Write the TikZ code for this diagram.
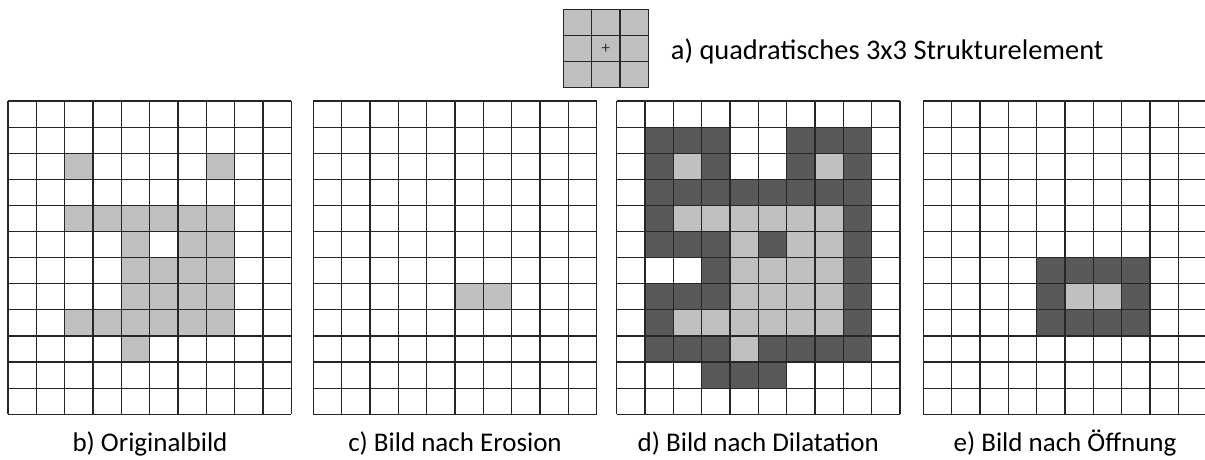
\documentclass[tikz,border=0pt]{standalone}
\usepackage{fontspec}
\setmainfont{Carlito}
\definecolor{lightc}{HTML}{C0C0C0}
\definecolor{darkc}{HTML}{595959}
\definecolor{plusc}{HTML}{1F3864}
\newcommand\cellw{28.33}
\newcommand\cellh{26.1}
\newcommand\gridy{101}
\begin{document}
\begin{tikzpicture}[x=1pt,y=-1pt,
  gl/.style={draw=black!85,line width=1.2pt},
  captext/.style={font=\fontsize{27}{30}\selectfont,inner sep=0pt,anchor=base}]
\clip (0,0) rectangle (1205,459);
\fill[white] (0,0) rectangle (1205,459);
% helper: fill cells
\newcommand\fillcells[3]{% #1 x0, #2 color, #3 list c/r
  \foreach \c/\r in {#3}
    \fill[#2] ({#1+\c*\cellw},{\gridy+\r*\cellh}) rectangle ++(\cellw,\cellh);}
\newcommand\gridat[1]{%
  \foreach \i in {0,...,10}
    \draw[gl] ({#1+\i*\cellw},\gridy) -- ++(0,{12*\cellh});
  \foreach \j in {0,...,12}
    \draw[gl] (#1,{\gridy+\j*\cellh}) -- ++({10*\cellw},0);}
% structuring element
\fill[lightc] (563.3,9.3) rectangle ++({3*\cellw},{3*\cellh});
\foreach \i in {0,...,3}
  \draw[gl] ({563.3+\i*\cellw},9.3) -- ++(0,{3*\cellh});
\foreach \j in {0,...,3}
  \draw[gl] (563.3,{9.3+\j*\cellh}) -- ++({3*\cellw},0);
\node[inner sep=0pt,text=plusc,font=\fontsize{17}{18}\selectfont] (plus) at ({563.3+1.5*\cellw},{9.3+1.5*\cellh}) {+};
\node[captext,anchor=base west,font=\fontsize{28.4}{30}\selectfont] (capA) at (670.7,59.3) {a) quadratisches 3x3 Strukturelement};
% b) original
\fillcells{8}{lightc}{2/2,7/2,2/4,3/4,4/4,5/4,6/4,7/4,4/5,6/5,7/5,4/6,5/6,6/6,7/6,4/7,5/7,6/7,7/7,2/8,3/8,4/8,5/8,6/8,7/8,4/9}
\gridat{8}
% c) erosion
\fillcells{313.3}{lightc}{5/7,6/7}
\gridat{313.3}
% d) dilation
\fillcells{616.7}{darkc}{1/1,2/1,3/1,6/1,7/1,8/1,1/2,3/2,6/2,8/2,1/3,2/3,3/3,4/3,5/3,6/3,7/3,8/3,1/4,8/4,1/5,2/5,3/5,5/5,8/5,3/6,8/6,1/7,2/7,3/7,8/7,1/8,8/8,1/9,2/9,3/9,5/9,6/9,7/9,8/9,3/10,4/10,5/10}
\fillcells{616.7}{lightc}{2/2,7/2,2/4,3/4,4/4,5/4,6/4,7/4,4/5,6/5,7/5,4/6,5/6,6/6,7/6,4/7,5/7,6/7,7/7,2/8,3/8,4/8,5/8,6/8,7/8,4/9}
\gridat{616.7}
% e) opening
\fillcells{923.3}{darkc}{4/6,5/6,6/6,7/6,4/7,7/7,4/8,5/8,6/8,7/8}
\fillcells{923.3}{lightc}{5/7,6/7}
\gridat{923.3}
% captions
\node[captext] (capB) at (150,451.7) {b) Originalbild};
\node[captext] (capC) at (455,451.7) {c) Bild nach Erosion};
\node[captext] (capD) at (758.3,451.7) {d) Bild nach Dilatation};
\node[captext] (capE) at (1065,451.7) {e) Bild nach Öffnung};
\end{tikzpicture}
\end{document}
